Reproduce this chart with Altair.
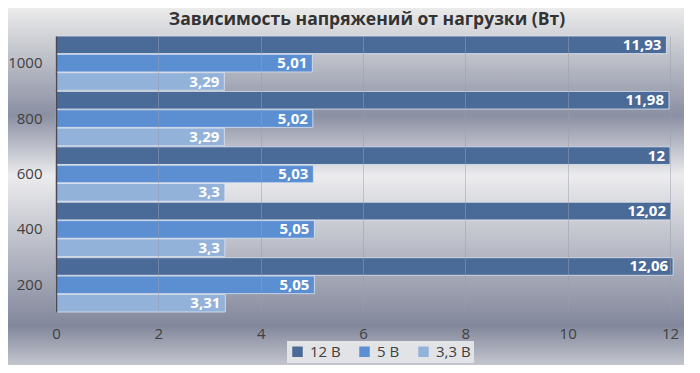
import altair as alt
import pandas as pd

title_text = "Зависимость напряжений от нагрузки (Вт)"
categories = ["1000", "800", "600", "400", "200"]
series = ["12 В", "5 В", "3,3 В"]
v12 = [11.93, 11.98, 12.0, 12.02, 12.06]
v5 = [5.01, 5.02, 5.03, 5.05, 5.05]
v33 = [3.29, 3.29, 3.3, 3.3, 3.31]
colors = ["#4a6b98", "#5b8fd2", "#93b2da"]

rows = []
for s, vals in zip(series, [v12, v5, v33]):
    for c, v in zip(categories, vals):
        lab = ("%g" % v).replace(".", ",")
        rows.append({"cat": c, "series": s, "value": v, "label": lab})
df = pd.DataFrame(rows)

W, H = 614, 276
PL, PT, PR, PB = 48, 28, 14, 53
FONT = "Open Sans"

bg = alt.Chart(pd.DataFrame({"a": [0]})).mark_rect(
    color=alt.LinearGradient(
        gradient="linear", x1=0, x2=0, y1=0, y2=1,
        stops=[
            alt.GradientStop(color="#ebebeb", offset=0),
            alt.GradientStop(color="#8a8fa2", offset=0.30),
            alt.GradientStop(color="#ececee", offset=0.47),
            alt.GradientStop(color="#82879b", offset=0.89),
            alt.GradientStop(color="#c4c6ce", offset=1),
        ],
    )
).encode(
    x=alt.value(-PL), x2=alt.value(W + PR),
    y=alt.value(-PT), y2=alt.value(H + PB),
)

title = alt.Chart(pd.DataFrame({"t": [title_text]})).mark_text(
    font=FONT, fontSize=17.5, fontWeight="bold", color="#333333",
    align="center", baseline="alphabetic",
).encode(x=alt.value(W / 2 + 4), y=alt.value(-11), text="t:N")

ysc = alt.Scale(domain=categories, paddingInner=0.02, paddingOuter=0.0)
yenc = alt.Y("cat:N", scale=ysc, title=None,
             axis=alt.Axis(labelFontSize=15, labelColor="#404040", labelFont=FONT,
                           labelPadding=14, ticks=False, domainColor="#4a4a55",
                           domainWidth=1.5, grid=False, zindex=2))
xenc = alt.X("value:Q", scale=alt.Scale(domain=[0, 12], nice=False), title=None,
             axis=alt.Axis(values=[0, 2, 4, 6, 8, 10, 12], labelFontSize=15,
                           labelColor="#404040", labelFont=FONT, labelPadding=14,
                           labelFlush=False,
                           ticks=False, domain=False, grid=True, zindex=1,
                           gridColor="#9a9eae", gridOpacity=0.5))
yoff = alt.YOffset("series:N", sort=series, scale=alt.Scale(domain=series, paddingInner=0.04))

bars = alt.Chart(df).mark_bar(stroke="#dfe6f0", strokeWidth=0.8).encode(
    y=yenc, x=xenc, yOffset=yoff,
    color=alt.Color("series:N", sort=series,
                    scale=alt.Scale(domain=series, range=colors),
                    legend=alt.Legend(title=None, orient="none", direction="horizontal",
                                      legendX=231, legendY=305, labelFontSize=15,
                                      labelFont=FONT, labelColor="#404040",
                                      symbolType="square", symbolSize=110,
                                      symbolStrokeWidth=0, fillColor="#e2e3e7",
                                      padding=3, columnPadding=16, labelOffset=5,
                                      zindex=2)),
)

texts = alt.Chart(df).mark_text(align="right", dx=-5, color="white", fontWeight="bold",
                                fontSize=15, font=FONT, baseline="middle").encode(
    y=alt.Y("cat:N", scale=ysc), x="value:Q", yOffset=yoff, text="label:N")

chart = alt.layer(bg, title, bars, texts).properties(
    width=W, height=H,
    padding={"left": PL, "top": PT, "right": PR, "bottom": PB},
    autosize=alt.AutoSizeParams(type="none"),
).configure_view(stroke=None).configure(background="#ebebeb")

chart.save("out.html", embed_options={"renderer": "svg", "actions": False})
